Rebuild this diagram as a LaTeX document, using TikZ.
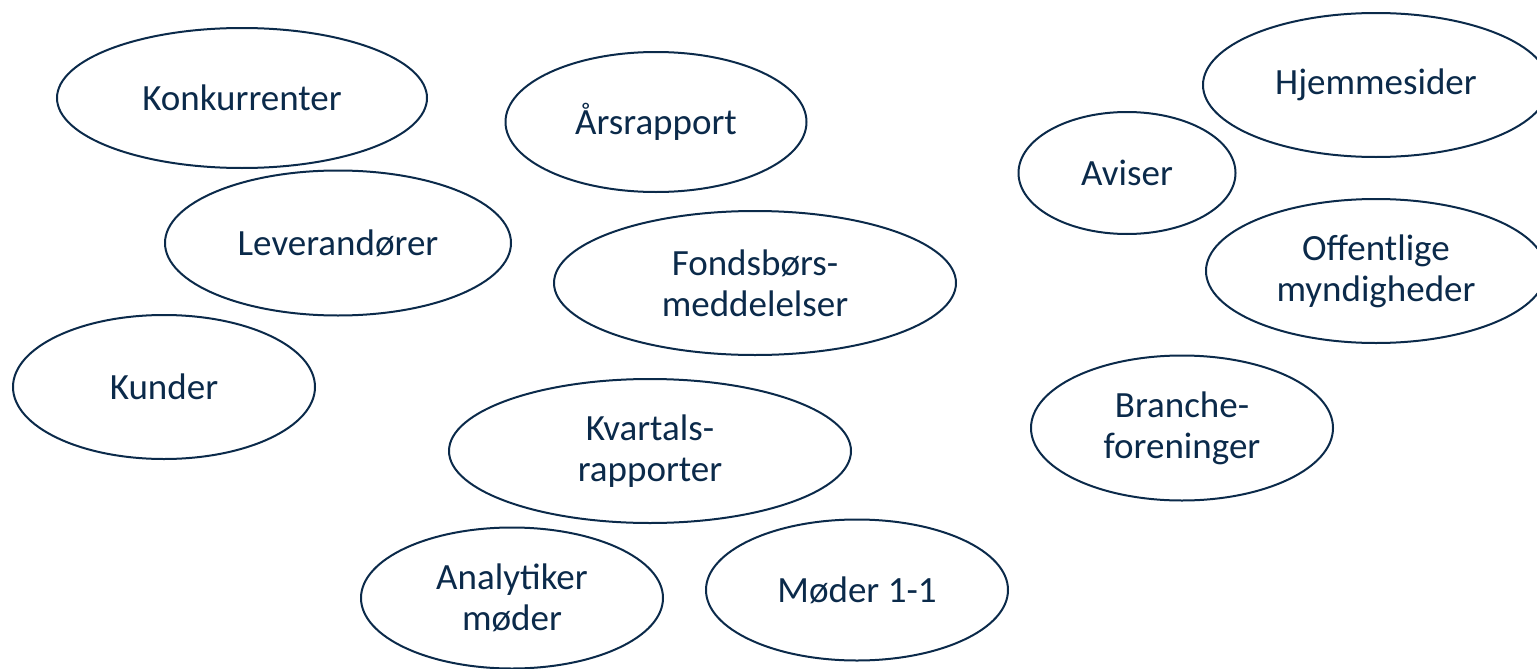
\documentclass[tikz,border=0pt]{standalone}
\usepackage{fontspec}
\setmainfont{Carlito}
\usetikzlibrary{shapes.geometric}
\definecolor{navy}{HTML}{0B2A4A}

\begin{document}
\begin{tikzpicture}[x=0.5pt,y=-0.5pt,
  bubble/.style={ellipse,draw=navy,line width=1pt,text=navy,align=center,
    inner sep=0pt,font=\fontsize{18.5}{20.5}\selectfont}]
  \useasboundingbox (0,0) rectangle (1537,669);
  \clip (0,0) rectangle (1537,669);
  \foreach \name/\x/\y/\w/\h/\txt in {
    konk/242/98/370/140/{Konkurrenter},
    aars/656/122/301/140/{Årsrapport},
    hjem/1376/85/346/144/{Hjemmesider},
    aviser/1127/173/217/122/{Aviser},
    lev/338/243/346/145/{Leverandører},
    fonds/755/283/402/144/{Fondsbørs-\\meddelelser},
    offm/1376/271/340/144/{Offentlige\\myndigheder},
    kunder/164/387/302/144/{Kunder},
    kvart/650/451/402/144/{Kvartals-\\rapporter},
    branche/1182/428/302/145/{Branche-\\foreninger},
    analyt/512/598/302/141/{Analytiker\\møder},
    moeder/857/590/302/141/{Møder 1-1}} {
    \node[bubble,minimum width=\w*0.5pt,minimum height=\h*0.5pt] (\name) at (\x,\y) {\txt};
  }
\end{tikzpicture}
\end{document}
